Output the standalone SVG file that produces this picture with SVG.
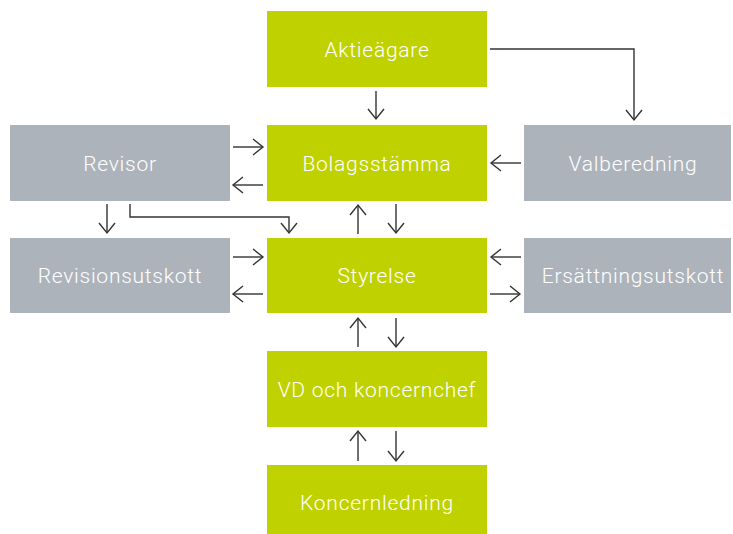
<svg xmlns="http://www.w3.org/2000/svg" width="733" height="534" viewBox="0 0 733 534">
<defs>
<marker id="ah" viewBox="0 0 14 20" refX="11.5" refY="10" markerWidth="14" markerHeight="20" markerUnits="userSpaceOnUse" orient="auto">
<path d="M1.5,2 L11.5,10 L1.5,18" fill="none" stroke="#333" stroke-width="1.4"/>
</marker>
<style>
.g{fill:#bfd200}
.s{fill:#adb3bb}
text{font-family:Roboto,"Liberation Sans",sans-serif;font-weight:300;font-size:21px;fill:#fff;text-anchor:middle;letter-spacing:0.75px}
.c{fill:none;stroke:#333;stroke-width:1.4;marker-end:url(#ah)}
</style>
</defs>
<rect width="733" height="534" fill="#fff"/>
<g id="aktieagare"><rect class="g" x="267" y="11" width="220" height="76"/><text x="377" y="56.8">Aktieägare</text></g>
<g id="bolagsstamma"><rect class="g" x="267" y="125" width="220" height="76"/><text x="377" y="170.8">Bolagsstämma</text></g>
<g id="revisor"><rect class="s" x="10" y="125" width="220" height="76"/><text x="120" y="170.8">Revisor</text></g>
<g id="valberedning"><rect class="s" x="524" y="125" width="207" height="76"/><text x="633" y="170.8">Valberedning</text></g>
<g id="styrelse"><rect class="g" x="267" y="238" width="220" height="75"/><text x="377" y="283.3">Styrelse</text></g>
<g id="revisionsutskott"><rect class="s" x="10" y="238" width="220" height="75"/><text x="120" y="283.3">Revisionsutskott</text></g>
<g id="ersattningsutskott"><rect class="s" x="524" y="238" width="207" height="75"/><text x="633" y="283.3">Ersättningsutskott</text></g>
<g id="vd"><rect class="g" x="267" y="351" width="220" height="76"/><text x="377" y="396.8">VD och koncernchef</text></g>
<g id="koncernledning"><rect class="g" x="267" y="465" width="220" height="69"/><text x="377" y="510.3">Koncernledning</text></g>
<g id="connectors">
<path class="c" d="M376,91 V119"/>
<path class="c" d="M490,49 H634 V120"/>
<path class="c" d="M233,147 H263"/>
<path class="c" d="M263,185 H233"/>
<path class="c" d="M521,163 H491"/>
<path class="c" d="M107,204 V233"/>
<path class="c" d="M130,204 V217 H289 V233"/>
<path class="c" d="M358,234 V205"/>
<path class="c" d="M396,204 V233"/>
<path class="c" d="M233,257 H263"/>
<path class="c" d="M263,294 H233"/>
<path class="c" d="M521,257 H491"/>
<path class="c" d="M490,294 H520"/>
<path class="c" d="M358,347 V318"/>
<path class="c" d="M396,318 V347"/>
<path class="c" d="M358,461 V431"/>
<path class="c" d="M396,431 V461"/>
</g>
</svg>
